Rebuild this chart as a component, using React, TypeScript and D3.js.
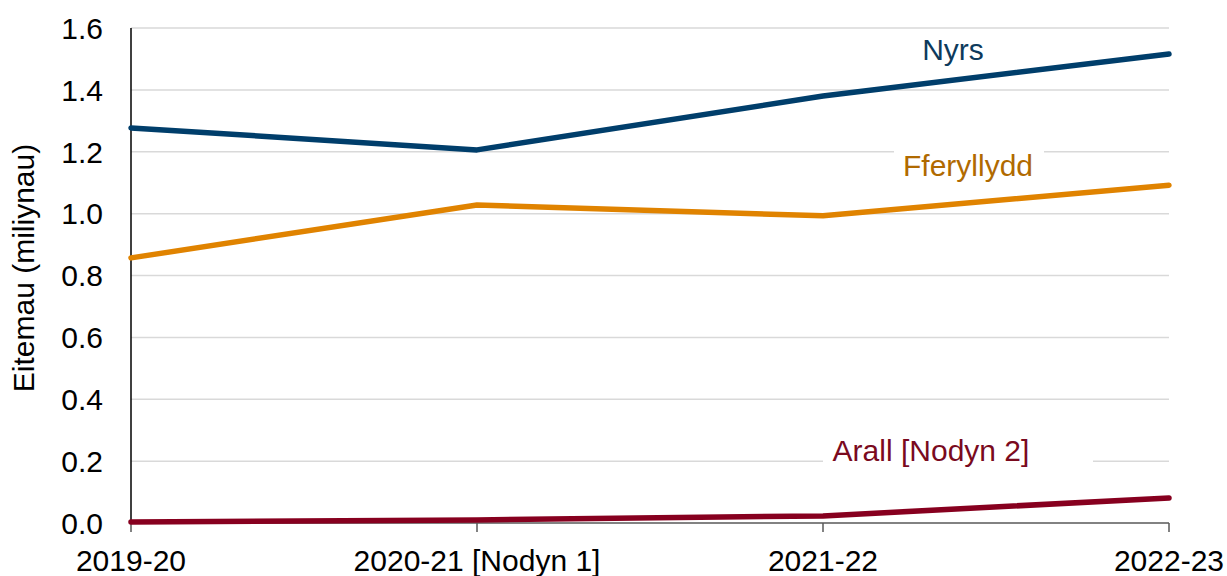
import React from "react";
import * as d3 from "d3";

const categories = ["2019-20", "2020-21 [Nodyn 1]", "2021-22", "2022-23"];
const nyrs = [1.277, 1.206, 1.38, 1.516];
const fferyllydd = [0.857, 1.028, 0.993, 1.092];
const arall = [0.003, 0.01, 0.023, 0.081];
const yTicks = [0, 0.2, 0.4, 0.6, 0.8, 1.0, 1.2, 1.4, 1.6];
const seriesNames = ["Nyrs", "Fferyllydd", "Arall [Nodyn 2]"];

const W = 1227;
const H = 576;
const left = 131;
const right = 1169;
const top = 28;
const bottom = 523;
const FS = 30;
const FONT = "'Liberation Sans', Arial, sans-serif";

export default function App() {
  const x = d3.scalePoint<string>().domain(categories).range([left, right]);
  const y = d3.scaleLinear().domain([0, 1.6]).range([bottom, top]);
  const line = d3
    .line<number>()
    .x((_, i) => x(categories[i]) as number)
    .y((d) => y(d));

  const series = [
    { name: seriesNames[0], values: nyrs, color: "#003e6b", label: "#0d3a5c", lx: 953, ly: 1.53 },
    { name: seriesNames[1], values: fferyllydd, color: "#e08300", label: "#b06a00", lx: 968, ly: 1.155 },
    { name: seriesNames[2], values: arall, color: "#87001f", label: "#7a0a1e", lx: 931, ly: 0.235 },
  ];

  return (
    <svg
      width={W}
      height={H}
      style={{ position: "absolute", left: 0, top: 0, background: "#fff" }}
      fontFamily={FONT}
    >
      {yTicks.slice(1).map((t) => (
        <line key={t} x1={left} x2={right} y1={y(t)} y2={y(t)} stroke="#d9d9d9" strokeWidth={1.5} />
      ))}
      {/* label background boxes */}
      <rect x={894} y={y(1.2) - 6} width={150} height={40} fill="#fff" />
      <rect x={823} y={y(0.2) - 6} width={270} height={40} fill="#fff" />
      {/* axes */}
      <line x1={left} x2={left} y1={top} y2={bottom} stroke="#000" strokeWidth={1.5} />
      <line x1={left} x2={right} y1={bottom} y2={bottom} stroke="#595959" strokeWidth={1.5} />
      {categories.map((c) => (
        <line key={c} x1={x(c)} x2={x(c)} y1={bottom} y2={bottom + 9} stroke="#595959" strokeWidth={1.5} />
      ))}
      {yTicks.map((t) => (
        <text key={t} x={left - 28} y={y(t)} dy="0.36em" textAnchor="end" fontSize={FS} fill="#000">
          {t.toFixed(1)}
        </text>
      ))}
      {categories.map((c) => (
        <text key={c} x={x(c)} y={571} textAnchor="middle" fontSize={FS} fill="#000">
          {c}
        </text>
      ))}
      <text
        transform={`translate(34, 268) rotate(-90)`}
        textAnchor="middle"
        fontSize={FS}
        fill="#000"
      >
        Eitemau (miliynau)
      </text>
      {series.map((s) => (
        <path
          key={s.name}
          d={line(s.values) as string}
          fill="none"
          stroke={s.color}
          strokeWidth={5.5}
          strokeLinecap="round"
          strokeLinejoin="round"
        />
      ))}
      {series.map((s) => (
        <text key={s.name + "l"} x={s.lx} y={y(s.ly)} dy="0.36em" textAnchor="middle" fontSize={FS} fill={s.label}>
          {s.name}
        </text>
      ))}
    </svg>
  );
}
